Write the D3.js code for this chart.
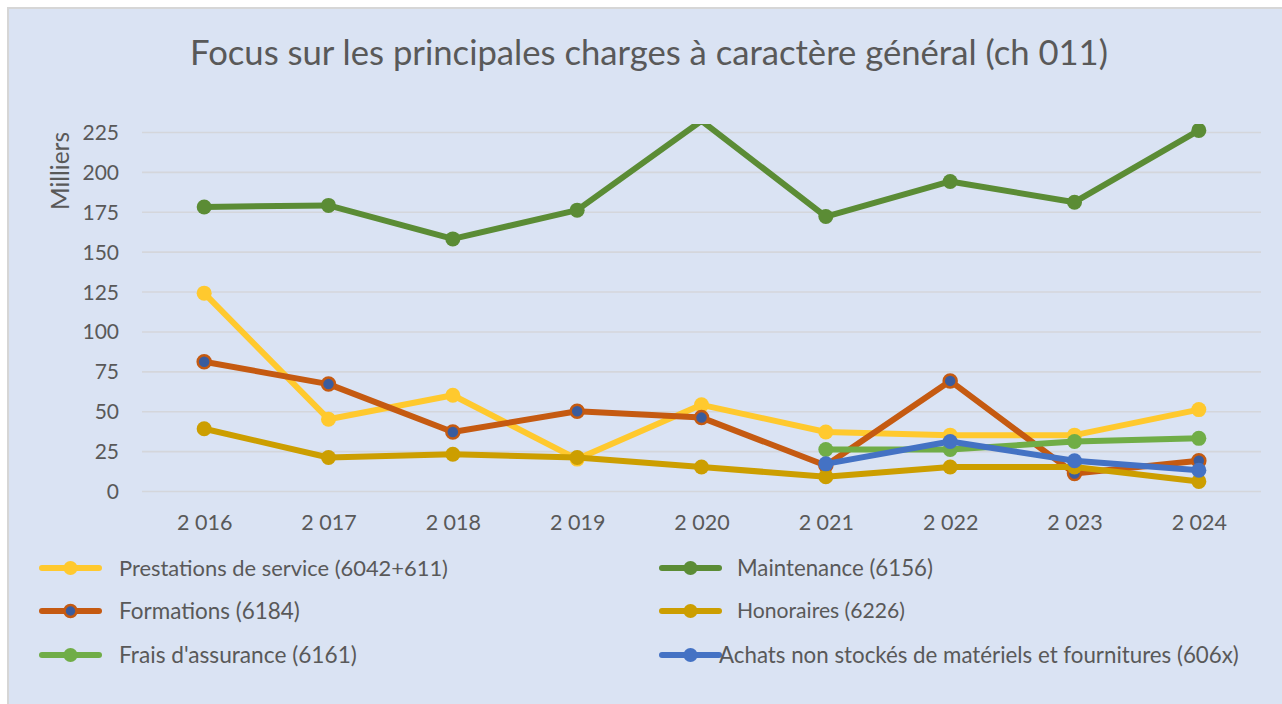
<!DOCTYPE html>
<html>
<head>
<meta charset="utf-8">
<script src="https://cdn.jsdelivr.net/npm/d3@7"></script>
<style>
  html, body { margin: 0; padding: 0; background: #ffffff; }
  svg { display: block; }
  text { font-family: Lato, "Open Sans", sans-serif; fill: #595959; }
</style>
</head>
<body>
<div id="chart"></div>
<script>
// data (values in thousands)
const years = ["2 016", "2 017", "2 018", "2 019", "2 020", "2 021", "2 022", "2 023", "2 024"];
const yTicks = [0, 25, 50, 75, 100, 125, 150, 175, 200, 225];

const prestations = [124, 45, 60, 20, 54, 37, 35, 35, 51];
const maintenance = [178, 179, 158, 176, 232, 172, 194, 181, 226];
const formations = [81, 67, 37, 50, 46, 16, 69, 11, 19];
const honoraires = [39, 21, 23, 21, 15, 9, 15, 15, 6];
const assurance = [null, null, null, null, null, 26, 26, 31, 33];
const achats = [null, null, null, null, null, 17, 31, 19, 13];

const seriesNames = [
    "Prestations de service (6042+611)",
    "Maintenance (6156)",
    "Formations (6184)",
    "Honoraires (6226)",
    "Frais d'assurance (6161)",
    "Achats non stockés de matériels et fournitures (606x)"
];
const seriesValues = [prestations, maintenance, formations, honoraires, assurance, achats];
const lineColors = ["#FFC92E", "#5B8C35", "#C55A11", "#CC9E00", "#70AD47", "#4472C4"];
const markerFills = ["#FFC92E", "#5B8C35", "#3A5C9E", "#CC9E00", "#70AD47", "#4472C4"];

const W = 1282, H = 704;
const PLOT = { left: 142, right: 1261, top: 124, bottom: 491 };
const Y_MAX = 230;

const svg = d3.select("#chart").append("svg")
    .attr("width", W)
    .attr("height", H);

// chart area
svg.append("rect")
    .attr("x", 8).attr("y", 8)
    .attr("width", W - 7).attr("height", H - 7)
    .attr("fill", "#DAE3F3")
    .attr("stroke", "#D6D6D6")
    .attr("stroke-width", 2);

// make a text fit a given width
function fitText(sel, width) {
    const node = sel.node();
    const fs = parseFloat(sel.attr("font-size"));
    const len = node.getComputedTextLength();
    sel.attr("font-size", (fs * width / len).toFixed(2));
    return sel;
}

// title
const title = svg.append("text")
    .attr("x", 649).attr("y", 65)
    .attr("text-anchor", "middle")
    .attr("font-size", 32)
    .text("Focus sur les principales charges à caractère général (ch 011)");
fitText(title, 918);

const xScale = d3.scalePoint().domain(years).range([PLOT.left, PLOT.right]).padding(0.5);
const yScale = d3.scaleLinear().domain([0, Y_MAX]).range([PLOT.bottom, PLOT.top]);

// gridlines
svg.append("g")
    .attr("class", "grid")
    .attr("transform", `translate(${PLOT.left},0)`)
    .call(d3.axisLeft(yScale).tickValues(yTicks).tickSize(-(PLOT.right - PLOT.left)).tickFormat(""))
    .call(g => g.select(".domain").remove())
    .call(g => g.selectAll("line").attr("stroke", "#D4D6DB").attr("stroke-width", 1.6));

// y axis labels
svg.append("g")
    .attr("transform", "translate(119,0)")
    .call(d3.axisLeft(yScale).tickValues(yTicks).tickSize(0).tickPadding(0))
    .call(g => g.select(".domain").remove())
    .call(g => g.selectAll("text")
        .attr("font-size", 21)
        .attr("dy", "0.36em")
        .attr("fill", "#595959")
        .style("font-family", "Lato, 'Open Sans', sans-serif"));

// x axis labels
svg.append("g")
    .attr("transform", `translate(0,${PLOT.bottom})`)
    .call(d3.axisBottom(xScale).tickSize(0).tickPadding(0))
    .call(g => g.select(".domain").remove())
    .call(g => g.selectAll("text")
        .attr("y", 39)
        .attr("dy", 0)
        .attr("font-size", 21.5)
        .attr("fill", "#595959")
        .style("font-family", "Lato, 'Open Sans', sans-serif"));

// y axis title
const yTitle = svg.append("text")
    .attr("transform", "translate(69,171) rotate(-90)")
    .attr("text-anchor", "middle")
    .attr("font-size", 22)
    .text("Milliers");
fitText(yTitle, 78);

// clip lines to plot area
svg.append("clipPath").attr("id", "plot-clip")
    .append("rect")
    .attr("x", 0).attr("y", PLOT.top)
    .attr("width", W).attr("height", H - PLOT.top);

const line = d3.line()
    .defined(d => d != null)
    .x((d, i) => xScale(years[i]))
    .y(d => yScale(d));

const lines = svg.append("g").attr("clip-path", "url(#plot-clip)");

seriesValues.forEach((vals, s) => {
    const g = lines.append("g");
    g.append("path")
        .datum(vals)
        .attr("fill", "none")
        .attr("stroke", lineColors[s])
        .attr("stroke-width", 6)
        .attr("stroke-linejoin", "round")
        .attr("d", line);
    g.selectAll("circle")
        .data(vals.map((v, i) => ({ v, i })).filter(d => d.v != null && d.v <= Y_MAX))
        .join("circle")
        .attr("cx", d => xScale(years[d.i]))
        .attr("cy", d => yScale(d.v))
        .attr("r", s === 2 ? 6.5 : 7.5)
        .attr("fill", markerFills[s])
        .attr("stroke", lineColors[s])
        .attr("stroke-width", s === 2 ? 2.5 : 0);
});

// legend
const legendRows = [568, 611, 655];
const legendCols = [
    { line: 42, text: 119 },
    { line: 662, text: 737 }
];
const legendWidths = [329, 196, 181, 168, 238, 520];

seriesNames.forEach((name, s) => {
    const col = legendCols[s % 2];
    const y = legendRows[Math.floor(s / 2)];
    const g = svg.append("g");
    g.append("line")
        .attr("x1", col.line).attr("x2", col.line + 57)
        .attr("y1", y).attr("y2", y)
        .attr("stroke", lineColors[s])
        .attr("stroke-width", 6)
        .attr("stroke-linecap", "round");
    g.append("circle")
        .attr("cx", col.line + 28.5).attr("cy", y)
        .attr("r", s === 2 ? 6 : 7)
        .attr("fill", markerFills[s])
        .attr("stroke", lineColors[s])
        .attr("stroke-width", s === 2 ? 2.5 : 0);
    const tx = s === 5 ? col.line + 57 : col.text;
    const t = g.append("text")
        .attr("x", tx).attr("y", y)
        .attr("dy", "0.35em")
        .attr("font-size", 21)
        .text(name);
    fitText(t, legendWidths[s]);
});
</script>
</body>
</html>
